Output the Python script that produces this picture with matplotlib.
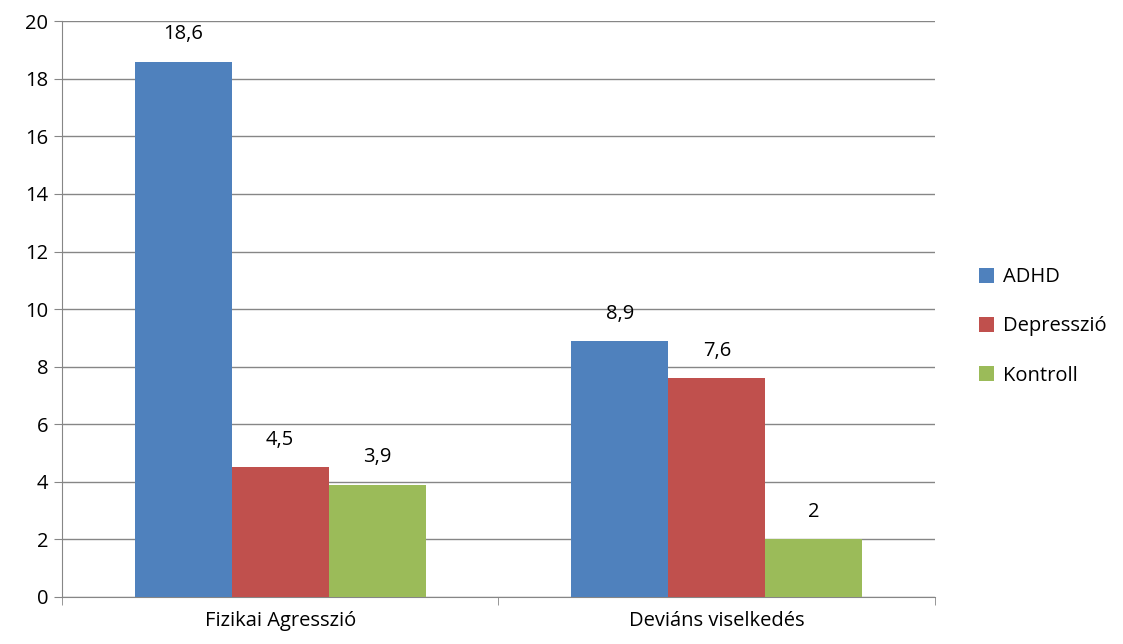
import matplotlib.pyplot as plt
import numpy as np

plt.rcParams['font.family'] = ['Open Sans', 'DejaVu Sans']

categories = ["Fizikai Agresszió", "Deviáns viselkedés"]
series_names = ["ADHD", "Depresszió", "Kontroll"]
adhd = [18.6, 8.9]
depresszio = [4.5, 7.6]
kontroll = [3.9, 2.0]
colors = ["#4F81BD", "#C0504D", "#9BBB59"]

fig = plt.figure(figsize=(11.23, 6.44), dpi=100)
ax = fig.add_axes([0.0552, 0.073, 0.7774, 0.894])

x = np.arange(len(categories))
w = 0.222
for k, (name, vals) in enumerate(zip(series_names, [adhd, depresszio, kontroll])):
    pos = x + (k - 1) * w
    bars = ax.bar(pos, vals, width=w, color=colors[k], label=name, zorder=3)
    for b, v in zip(bars, vals):
        lbl = f"{v:g}".replace(".", ",")
        ax.text(b.get_x() + b.get_width() / 2, v + 0.6, lbl,
                ha="center", va="bottom", fontsize=14.5, zorder=4)

ax.set_xlim(-0.5, 1.5)
ax.set_ylim(0, 20)
ax.set_yticks(np.arange(0, 21, 2))
ax.yaxis.grid(True, color="#868686", linewidth=1, zorder=0)
ax.set_axisbelow(True)

ax.set_xticks(x)
ax.set_xticklabels(categories)
ax.set_xticks([-0.5, 0.5, 1.5], minor=True)
ax.tick_params(axis="x", which="major", length=0, pad=10, labelsize=14.5)
ax.tick_params(axis="x", which="minor", length=6, color="#868686")
ax.tick_params(axis="y", length=6, color="#868686", labelsize=14.5, pad=4)

for s in ["top", "right"]:
    ax.spines[s].set_visible(False)
for s in ["left", "bottom"]:
    ax.spines[s].set_color("#868686")

ax.legend(loc="center left", bbox_to_anchor=(1.03, 0.47), frameon=False,
          fontsize=14.5, handlelength=0.75, handleheight=0.75,
          labelspacing=1.45, handletextpad=0.45)

fig.savefig("out.png", dpi=100)
